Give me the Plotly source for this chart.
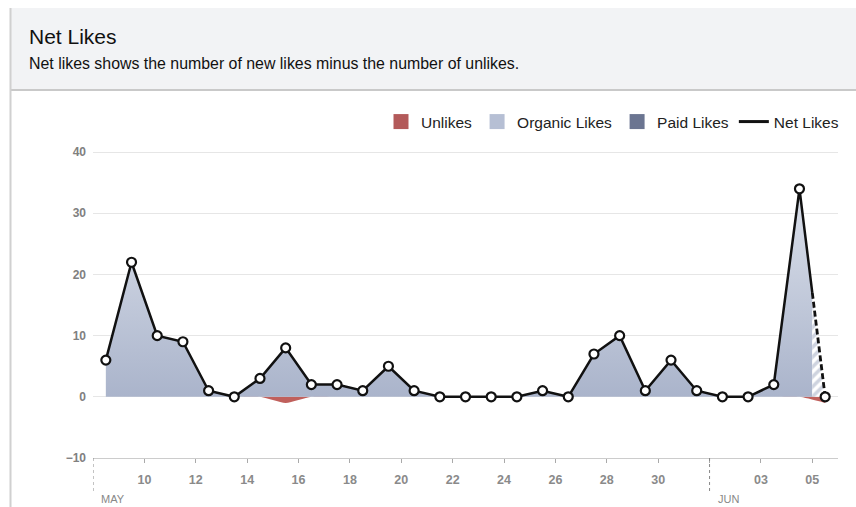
import plotly.graph_objects as go
import pandas as pd

# ---------------- data ----------------
dates = pd.date_range("2013-05-08", "2013-06-05", freq="D")
net_likes = [6, 22, 10, 9, 1, 0, 3, 8, 2, 2, 1, 5, 1, 0, 0, 0, 0, 1, 0, 7, 10, 1, 6, 1, 0, 0, 2, 34, 0]
organic_likes = [6, 22, 10, 9, 1, 0, 3, 8, 2, 2, 1, 5, 1, 0, 0, 0, 0, 1, 0, 7, 10, 1, 6, 1, 0, 0, 2, 34, 0]
paid_likes = [0] * 29
unlikes = [0, 0, 0, 0, 0, 0, 0, 1, 0, 0, 0, 0, 0, 0, 0, 0, 0, 0, 0, 0, 0, 0, 0, 0, 0, 0, 0, 0, 1]
tick_dates = ["2013-05-10", "2013-05-12", "2013-05-14", "2013-05-16", "2013-05-18", "2013-05-20",
              "2013-05-22", "2013-05-24", "2013-05-26", "2013-05-28", "2013-05-30", "2013-06-01",
              "2013-06-03", "2013-06-05"]
tick_labels = ["10", "12", "14", "16", "18", "20", "22", "24", "26", "28", "30", "", "03", "05"]
month_labels = [("2013-05-08", "MAY"), ("2013-06-01", "JUN")]

# ---------------- layout geometry ----------------
W, H = 856, 507
ML, MR, MT, MB = 93, 18, 146, 49
L, R, T, B = ML, W - MR, MT, H - MB
def xp(px):
    return (px - L) / (R - L)
def yp(py):
    return (B - py) / (B - T)

FONT = "Liberation Sans, Arial, sans-serif"
C_ORG = "#b6bfd4"
C_PAID = "#6b7591"
C_UNL = "#b35a5a"

x_pts = dates + pd.Timedelta(hours=12)
# last day is partial: split the final segment at the day boundary
x_mid = dates[-1]
mid_val = (net_likes[-2] + net_likes[-1]) / 2
org_mid = (organic_likes[-2] + organic_likes[-1]) / 2

fig = go.Figure()

# unlikes (negative area)
fig.add_trace(go.Scatter(
    x=x_pts, y=[-u for u in unlikes], mode="lines", line=dict(width=0, shape="spline", smoothing=0.6),
    fill="tozeroy", fillcolor="#c0605c", showlegend=False, hoverinfo="skip"))

# organic likes area (complete days)
fig.add_trace(go.Scatter(
    x=list(x_pts[:-1]) + [x_mid], y=organic_likes[:-1] + [org_mid], mode="lines",
    line=dict(width=0), fill="tozeroy",
    fillgradient=dict(type="vertical", colorscale=[[0, "#aab4cb"], [1, "#dce1eb"]]),
    showlegend=False, hoverinfo="skip"))
# partial day hatched
fig.add_trace(go.Scatter(
    x=[x_mid, x_pts[-1]], y=[org_mid, organic_likes[-1]], mode="lines",
    line=dict(width=0), fill="tozeroy", fillcolor="white",
    fillpattern=dict(shape="/", fgcolor="#9ea8bf", bgcolor="white", size=7, solidity=0.5),
    showlegend=False, hoverinfo="skip"))
# paid likes (zero)
fig.add_trace(go.Scatter(
    x=x_pts, y=paid_likes, mode="lines", line=dict(width=0), fill="tozeroy",
    fillcolor=C_PAID, showlegend=False, hoverinfo="skip"))

# net likes line
fig.add_trace(go.Scatter(
    x=list(x_pts[:-1]) + [x_mid], y=net_likes[:-1] + [mid_val], mode="lines",
    line=dict(color="#111111", width=2.5), showlegend=False))
fig.add_trace(go.Scatter(
    x=[x_mid, x_pts[-1]], y=[mid_val, net_likes[-1]], mode="lines",
    line=dict(color="#111111", width=2.8, dash="6px,3px"), showlegend=False))
fig.add_trace(go.Scatter(
    x=x_pts, y=net_likes, mode="markers",
    marker=dict(size=9, color="white", line=dict(color="#111111", width=2.2)), showlegend=False))

# legend entries
for name, col in [("Unlikes", C_UNL), ("Organic Likes", C_ORG), ("Paid Likes", C_PAID)]:
    fig.add_trace(go.Scatter(x=[None], y=[None], mode="markers", name=name,
                             marker=dict(symbol="square", size=15, color=col)))
fig.add_trace(go.Scatter(x=[None], y=[None], mode="lines", name="Net Likes",
                         line=dict(color="#111111", width=3)))

shapes = [
    dict(type="rect", xref="paper", yref="paper", x0=xp(11), x1=xp(W), y0=yp(90), y1=yp(8),
         fillcolor="#f2f3f5", line=dict(width=0), layer="below"),
    dict(type="line", xref="paper", yref="paper", x0=xp(11), x1=xp(W), y0=yp(90), y1=yp(90),
         line=dict(color="#c9c9c9", width=2)),
    dict(type="line", xref="paper", yref="paper", x0=xp(10.5), x1=xp(10.5), y0=yp(8), y1=yp(H),
         line=dict(color="#d0d0d0", width=2)),
]
annotations = [
    dict(text="Net Likes", xref="paper", yref="paper", x=xp(27), y=yp(37), xanchor="left",
         yanchor="middle", showarrow=False, font=dict(family=FONT, size=21, color="#111111")),
    dict(text="Net likes shows the number of new likes minus the number of unlikes.",
         xref="paper", yref="paper", x=xp(27), y=yp(63), xanchor="left", yanchor="middle",
         showarrow=False, font=dict(family=FONT, size=15.9, color="#111111")),
]
for d, lab in month_labels:
    shapes.append(dict(type="line", xref="x", yref="paper", x0=d, x1=d, y0=yp(B), y1=yp(491),
                       line=dict(color="#888888", width=1, dash="dot")))
    annotations.append(dict(text=lab, xref="x", yref="paper", x=d, xshift=6, y=yp(499),
                            xanchor="left", yanchor="middle", showarrow=False,
                            font=dict(family=FONT, size=11, color="#888888")))

fig.update_layout(
    width=W, height=H, autosize=False,
    margin=dict(l=ML, r=MR, t=MT, b=MB),
    paper_bgcolor="white", plot_bgcolor="white",
    font=dict(family=FONT),
    shapes=shapes, annotations=annotations,
    legend=dict(orientation="h", x=xp(844), xanchor="right", y=yp(122), yanchor="middle",
                font=dict(family=FONT, size=15.5, color="#222222"), bgcolor="rgba(0,0,0,0)",
                itemwidth=30, tracegroupgap=0),
    xaxis=dict(type="date", range=[dates[0], dates[-1] + pd.Timedelta(days=1)],
               tickvals=tick_dates, ticktext=tick_labels, showgrid=False, zeroline=False,
               showline=True, linecolor="#cccccc", linewidth=1, ticks="outside", ticklen=4,
               tickcolor="#aaaaaa",
               tickfont=dict(family=FONT, size=12.5, color="#8a8a8a", weight="bold"),
               ticklabelstandoff=6),
    yaxis=dict(range=[-10, 41], tickvals=[-10, 0, 10, 20, 30, 40], showgrid=True,
               gridcolor="#e6e6e6", zeroline=False, showline=False,
               tickfont=dict(family=FONT, size=12, color="#808080", weight="bold"),
               ticklabelstandoff=6),
    hovermode=False,
)

fig.write_html("out.html", config={"displayModeBar": False},
               post_script="document.body.style.margin='0';")
